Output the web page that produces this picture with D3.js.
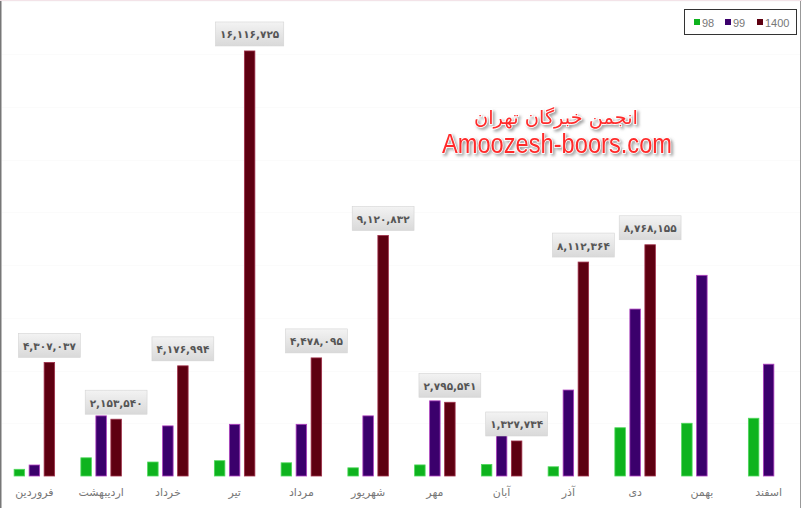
<!DOCTYPE html>
<html><head><meta charset="utf-8">
<script src="https://cdn.jsdelivr.net/npm/d3@7"></script>
<style>html,body{margin:0;padding:0;background:#fff;overflow:hidden}</style>
</head><body>
<script>
const months = ["فروردین","اردیبهشت","خرداد","تیر","مرداد","شهریور","مهر","آبان","آذر","دی","بهمن","اسفند"];
const seriesNames = ["98","99","1400"];
const s98 = [254000, 690000, 530000, 580000, 500000, 310000, 420000, 440000, 350000, 1830000, 2000000, 2190000];
const s99 = [417000, 2280000, 1900000, 1960000, 1960000, 2280000, 2850000, 1550000, 3260000, 6330000, 7610000, 4240000];
const s1400 = [4307037, 2153540, 4176994, 16116725, 4478095, 9120832, 2795541, 1327734, 8112364, 8768155, null, null];
const yTicks = [0, 2e6, 4e6, 6e6, 8e6, 10e6, 12e6, 14e6, 16e6, 18e6];
const colors = {"98":"#0eb31e","99":"#3b006c","1400":"#5e0011"};
const strokes = {"98":"#4fd85c","99":"#b040c0","1400":"#a0304a"};

const W = 802, H = 508;
const svg = d3.select("body").append("svg").attr("width", W).attr("height", H)
  .style("font-family", "'DejaVu Sans', sans-serif");
svg.append("rect").attr("width", W).attr("height", H).attr("fill", "#fff");

const defs = svg.append("defs");
const grad = defs.append("linearGradient").attr("id","lblg").attr("x1",0).attr("y1",0).attr("x2",0).attr("y2",1);
grad.append("stop").attr("offset","0%").attr("stop-color","#f3f3f3");
grad.append("stop").attr("offset","100%").attr("stop-color","#d9d9d9");
const flt = defs.append("filter").attr("id","sh").attr("x","-10%").attr("y","-30%").attr("width","130%").attr("height","180%");
flt.append("feDropShadow").attr("dx",2).attr("dy",2).attr("stdDeviation",1.5).attr("flood-color","#888").attr("flood-opacity",0.8);

const x = d3.scaleBand().domain(months).range([1, 802]).paddingInner(0).paddingOuter(0);
const y = d3.scaleLinear().domain([0, 18e6]).range([476, 1.3]);
const xs = d3.scaleBand().domain(seriesNames).range([0, 40.5]).paddingInner(0.3).paddingOuter(0);
const off = (x.bandwidth() - 40.5) / 2;

// very faint gridlines
svg.append("g").selectAll("line").data(yTicks.slice(1)).join("line")
  .attr("x1", 2).attr("x2", 800).attr("y1", d => Math.round(y(d)) + 0.5).attr("y2", d => Math.round(y(d)) + 0.5)
  .attr("stroke", "#fbfbfb");

const data = months.map((m, i) => ({m, vals: [
  {k:"98", v:s98[i]}, {k:"99", v:s99[i]}, {k:"1400", v:s1400[i]}
].filter(d => d.v != null)}));

const g = svg.append("g");
const groups = g.selectAll("g").data(data).join("g")
  .attr("transform", d => `translate(${x(d.m) + off},0)`);
groups.selectAll("rect").data(d => d.vals).join("rect")
  .attr("x", d => xs(d.k)).attr("width", xs.bandwidth())
  .attr("y", d => y(d.v)).attr("height", d => y(0) - y(d.v))
  .attr("fill", d => colors[d.k]).attr("stroke", d => strokes[d.k]).attr("stroke-width", 0.8);

// x axis labels
const xAxis = d3.axisBottom(x).tickSize(0).tickPadding(0);
const xa = svg.append("g").attr("transform", "translate(0,486)").call(xAxis);
xa.select(".domain").remove();
xa.selectAll("text").attr("fill", "#777").attr("font-size", 11).attr("dy", "0.9em")
  .style("font-family", "'DejaVu Sans', sans-serif");

// data labels
const fa = s => s.replace(/\d/g, d => "۰۱۲۳۴۵۶۷۸۹"[+d]);
const fmt = d3.format(",");
const lab = svg.append("g");
data.forEach(d => {
  d.vals.filter(v => v.k === "1400").forEach(v => {
    const cx = x(d.m) + off + xs(v.k) + xs.bandwidth() / 2;
    const top = y(v.v);
    const lg = lab.append("g");
    const r = lg.append("rect").attr("fill", "url(#lblg)").attr("stroke", "#d4d4d4").attr("stroke-width", 0.6);
    const t = lg.append("text").attr("x", cx).attr("y", top - 12.5).attr("text-anchor", "middle")
      .attr("font-size", 10.5).attr("font-weight", "bold").attr("fill", "#555")
      .attr("direction", "ltr").text(fa(fmt(v.v)));
    const w = t.node().getComputedTextLength() + 9;
    r.attr("x", cx - w / 2).attr("y", top - 29).attr("width", w).attr("height", 24);
  });
});

// watermark
const wm = svg.append("g").attr("filter", "url(#sh)");
wm.append("text").attr("x", 556).attr("y", 124).attr("text-anchor", "middle")
  .attr("font-size", 19).attr("fill", "#ff2b2b").attr("stroke", "#fff").attr("stroke-width", 1.5)
  .attr("paint-order", "stroke").attr("textLength", 164).attr("lengthAdjust", "spacingAndGlyphs")
  .text("انجمن خبرگان تهران");
wm.append("text").attr("x", 557).attr("y", 153).attr("text-anchor", "middle")
  .style("font-family", "'Liberation Sans', Arial, sans-serif")
  .attr("font-size", 27).attr("fill", "#ff2b2b").attr("stroke", "#fff").attr("stroke-width", 1.5)
  .attr("paint-order", "stroke").attr("textLength", 230).attr("lengthAdjust", "spacingAndGlyphs")
  .text("Amoozesh-boors.com");

// legend
const leg = svg.append("g");
leg.append("rect").attr("x", 684.5).attr("y", 9.5).attr("width", 112).attr("height", 25)
  .attr("fill", "#fff").attr("stroke", "#333");
const lx = [694, 725, 757];
seriesNames.forEach((k, i) => {
  leg.append("rect").attr("x", lx[i]).attr("y", 19).attr("width", 6).attr("height", 6).attr("fill", colors[k]);
  leg.append("text").attr("x", lx[i] + 8).attr("y", 26.5).attr("font-size", 11).attr("fill", "#777")
    .style("font-family", "'Liberation Sans', Arial, sans-serif").text(k);
});

// frame
svg.append("line").attr("x1", 0.75).attr("x2", 0.75).attr("y1", 0).attr("y2", H).attr("stroke", "#777").attr("stroke-width", 1.5);
svg.append("line").attr("x1", 800.5).attr("x2", 800.5).attr("y1", 0).attr("y2", H).attr("stroke", "#999");
svg.append("line").attr("x1", 0).attr("x2", W).attr("y1", 0.5).attr("y2", 0.5).attr("stroke", "#f3e3e8");
</script>
</body></html>
